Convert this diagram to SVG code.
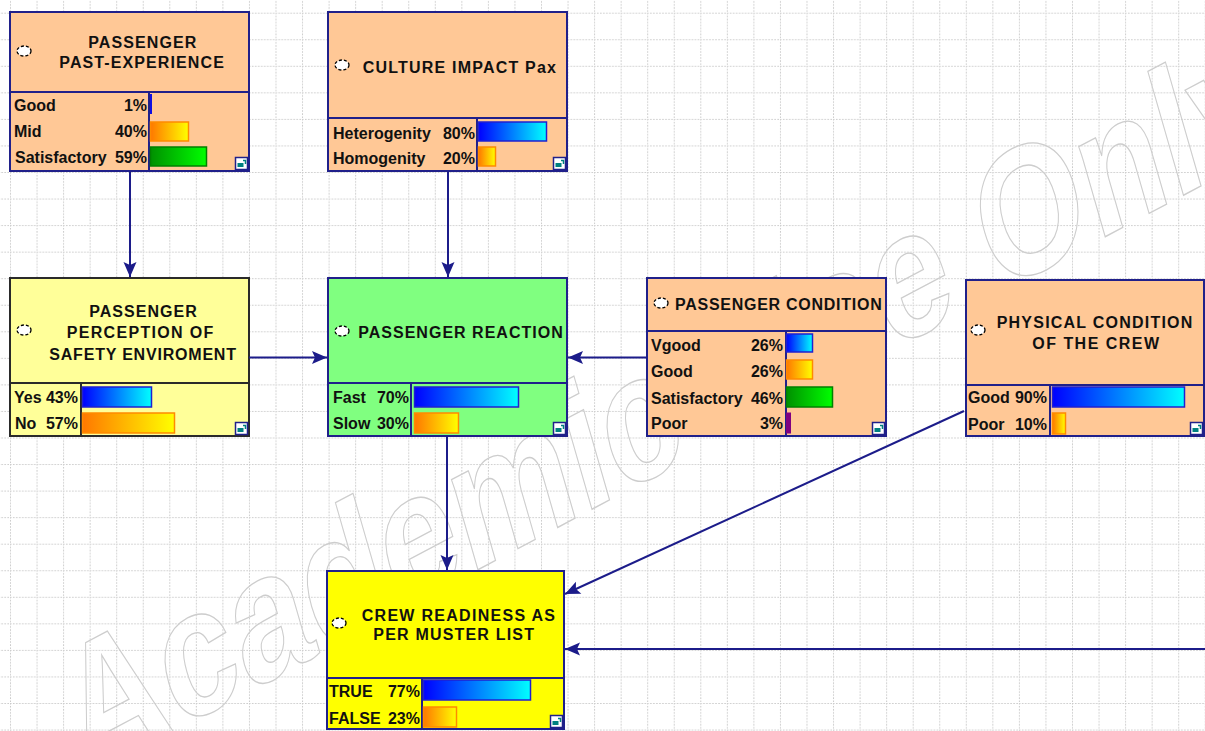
<svg xmlns="http://www.w3.org/2000/svg" width="1205" height="731" viewBox="0 0 1205 731">
<defs>
<pattern id="grid" patternUnits="userSpaceOnUse" x="10" y="12.7" width="26.55" height="26.55">
<line x1="0" y1="0.5" x2="26.55" y2="0.5" stroke="#c9c9c9" stroke-width="1" stroke-dasharray="1.5 1.5"/>
<line x1="0.5" y1="0" x2="0.5" y2="26.55" stroke="#c9c9c9" stroke-width="1" stroke-dasharray="1.5 1.5"/>
</pattern>
<linearGradient id="gBlue" x1="0" y1="0" x2="1" y2="0"><stop offset="0" stop-color="#0000ff"/><stop offset="1" stop-color="#00ffff"/></linearGradient>
<linearGradient id="gOrange" x1="0" y1="0" x2="1" y2="0"><stop offset="0" stop-color="#ff7800"/><stop offset="1" stop-color="#ffff00"/></linearGradient>
<linearGradient id="gGreen" x1="0" y1="0" x2="1" y2="0"><stop offset="0" stop-color="#009000"/><stop offset="1" stop-color="#00ff00"/></linearGradient>
<marker id="arr" markerUnits="userSpaceOnUse" markerWidth="18" markerHeight="14" viewBox="0 -7 16 14" refX="15" refY="0" orient="auto">
<path d="M0,-6.5 L15,0 L0,6.5 L3,0 Z" fill="#1c1c8a"/>
</marker>
<g id="mini"><rect x="0.5" y="0.5" width="12" height="12" fill="#ffffff" stroke="#20208a" stroke-width="1.5"/><rect x="2.5" y="6" width="6" height="4" fill="#008080"/><path d="M8,3.5 L10.5,3.5 L10.5,7" fill="none" stroke="#008080" stroke-width="1.5"/></g>
</defs>
<style>
.box{stroke:#20208a;stroke-width:2}
.div{stroke:#20208a;stroke-width:2;fill:none}
.peach{fill:#ffc896}
.lyel{fill:#ffff99}
.green{fill:#80ff80}
.yel{fill:#ffff00}
.t{font-family:"Liberation Sans",Arial,sans-serif;font-weight:bold;font-size:16px;fill:#111}
.pct{text-anchor:end}
.ico{fill:#ffffff;stroke:#000;stroke-width:1.3;stroke-dasharray:3 2}
.bb{fill:url(#gBlue);stroke:#2020d0;stroke-width:1.5}
.bo{fill:url(#gOrange);stroke:#ff8a00;stroke-width:1.5}
.bg{fill:url(#gGreen);stroke:#008000;stroke-width:1.5}
.bp{fill:#800080;stroke:#800080;stroke-width:1}
.conn{stroke:#1c1c8a;stroke-width:2;fill:none;marker-end:url(#arr)}
.wm{font-family:"Liberation Sans",Arial,sans-serif;font-weight:bold;font-size:150px;fill:none;stroke:#cdcdcd;stroke-width:1.2;vector-effect:non-scaling-stroke}
</style>
<rect width="1205" height="731" fill="#ffffff"/>
<rect width="1205" height="731" fill="url(#grid)"/>
<text class="wm" transform="matrix(0.855 -0.454 0.3275 1.14 84 779)">Academic Use Only</text>

<g id="n1">
<rect class="box peach" x="10" y="12" width="239" height="159"/>
<line class="div" x1="10" y1="92" x2="249" y2="92"/>
<line class="div" x1="149" y1="92" x2="149" y2="171"/>
<ellipse class="ico" cx="24" cy="51" rx="7" ry="5"/>
<text class="t" x="88.3" y="47.7" textLength="108" lengthAdjust="spacing">PASSENGER</text>
<text class="t" x="59.3" y="68.3" textLength="164.5" lengthAdjust="spacing">PAST-EXPERIENCE</text>
<text class="t" x="14" y="111">Good</text><text class="t pct" x="147" y="111">1%</text>
<text class="t" x="14" y="137">Mid</text><text class="t pct" x="147" y="137">40%</text>
<text class="t" x="15" y="162.5">Satisfactory</text><text class="t pct" x="147" y="162.5">59%</text>
<rect x="150" y="94" width="2" height="20" fill="#1010e0"/>
<rect class="bo" x="150.5" y="122" width="38" height="19"/>
<rect class="bg" x="150.5" y="147" width="56" height="19"/>
<use href="#mini" x="235" y="157"/>
</g>

<g id="n2">
<rect class="box peach" x="328" y="12" width="239" height="159"/>
<line class="div" x1="328" y1="118" x2="567" y2="118"/>
<line class="div" x1="477" y1="118" x2="477" y2="171"/>
<ellipse class="ico" cx="342" cy="65" rx="7" ry="5"/>
<text class="t" x="362.7" y="72.7" textLength="193.3" lengthAdjust="spacing">CULTURE IMPACT Pax</text>
<text class="t" x="333" y="138.5">Heterogenity</text><text class="t pct" x="475" y="138.5">80%</text>
<text class="t" x="333" y="163.5">Homogenity</text><text class="t pct" x="475" y="163.5">20%</text>
<rect class="bb" x="478.5" y="122" width="68" height="19"/>
<rect class="bo" x="478.5" y="147" width="17" height="19"/>
<use href="#mini" x="553" y="157"/>
</g>

<g id="n3">
<rect class="lyel" x="10" y="278" width="239" height="158" stroke="#2a2a2a" stroke-width="2"/>
<line x1="10" y1="383" x2="249" y2="383" stroke="#2a2a2a" stroke-width="2"/>
<line x1="81" y1="383" x2="81" y2="436" stroke="#2a2a2a" stroke-width="2"/>
<ellipse class="ico" cx="24" cy="330" rx="7" ry="5"/>
<text class="t" x="89.3" y="316.7" textLength="107.4" lengthAdjust="spacing">PASSENGER</text>
<text class="t" x="66.7" y="338.3" textLength="146.6" lengthAdjust="spacing">PERCEPTION OF</text>
<text class="t" x="49.3" y="360" textLength="186.7" lengthAdjust="spacing">SAFETY ENVIROMENT</text>
<text class="t" x="14" y="403">Yes</text><text class="t pct" x="78" y="403">43%</text>
<text class="t" x="15" y="429">No</text><text class="t pct" x="78" y="429">57%</text>
<rect class="bb" x="82.5" y="387" width="69" height="20"/>
<rect class="bo" x="82.5" y="413" width="92" height="20"/>
<use href="#mini" x="235" y="422"/>
</g>

<g id="n4">
<rect class="box green" x="328" y="278" width="239" height="158"/>
<line class="div" x1="328" y1="383" x2="567" y2="383"/>
<line class="div" x1="411" y1="383" x2="411" y2="436"/>
<ellipse class="ico" cx="342" cy="331" rx="7" ry="5"/>
<text class="t" x="358.3" y="338.3" textLength="204.4" lengthAdjust="spacing">PASSENGER REACTION</text>
<text class="t" x="333" y="403">Fast</text><text class="t pct" x="409" y="403">70%</text>
<text class="t" x="333" y="429">Slow</text><text class="t pct" x="409" y="429">30%</text>
<rect class="bb" x="414.5" y="387" width="104" height="20"/>
<rect class="bo" x="414.5" y="413" width="44" height="20"/>
<use href="#mini" x="553" y="422"/>
</g>

<g id="n5">
<rect class="box peach" x="647" y="278" width="239" height="158"/>
<line class="div" x1="647" y1="331" x2="886" y2="331"/>
<line class="div" x1="786" y1="331" x2="786" y2="436"/>
<ellipse class="ico" cx="661" cy="303" rx="7" ry="5"/>
<text class="t" x="675" y="310" textLength="206.7" lengthAdjust="spacing">PASSENGER CONDITION</text>
<text class="t" x="651" y="351">Vgood</text><text class="t pct" x="783" y="351">26%</text>
<text class="t" x="651" y="377">Good</text><text class="t pct" x="783" y="377">26%</text>
<text class="t" x="651" y="403.5">Satisfactory</text><text class="t pct" x="783" y="403.5">46%</text>
<text class="t" x="651" y="429">Poor</text><text class="t pct" x="783" y="429">3%</text>
<rect class="bb" x="786.5" y="334" width="26" height="18"/>
<rect class="bo" x="786.5" y="360" width="26" height="19"/>
<rect class="bg" x="786.5" y="387" width="46" height="20"/>
<rect class="bp" x="786.5" y="413" width="4" height="20"/>
<use href="#mini" x="872" y="422"/>
</g>

<g id="n6">
<rect class="box peach" x="966" y="280" width="238" height="156"/>
<line class="div" x1="966" y1="385" x2="1204" y2="385"/>
<line class="div" x1="1050" y1="385" x2="1050" y2="436"/>
<ellipse class="ico" cx="978" cy="330" rx="7" ry="5"/>
<text class="t" x="996.7" y="328.3" textLength="195.6" lengthAdjust="spacing">PHYSICAL CONDITION</text>
<text class="t" x="1032.3" y="349.3" textLength="126.7" lengthAdjust="spacing">OF THE CREW</text>
<text class="t" x="968" y="403">Good</text><text class="t pct" x="1047" y="403">90%</text>
<text class="t" x="968" y="429.5">Poor</text><text class="t pct" x="1047" y="429.5">10%</text>
<rect class="bb" x="1052.5" y="387" width="132" height="20"/>
<rect class="bo" x="1052.5" y="413" width="13" height="21"/>
<use href="#mini" x="1190" y="422"/>
</g>

<g id="n7">
<rect class="box yel" x="327" y="571" width="237" height="158"/>
<line class="div" x1="327" y1="678" x2="564" y2="678"/>
<line class="div" x1="422" y1="678" x2="422" y2="729"/>
<ellipse class="ico" cx="339" cy="623" rx="7" ry="5"/>
<text class="t" x="361.7" y="621" textLength="193.3" lengthAdjust="spacing">CREW READINESS AS</text>
<text class="t" x="373.3" y="640" textLength="160.7" lengthAdjust="spacing">PER MUSTER LIST</text>
<text class="t" x="329" y="696.5">TRUE</text><text class="t pct" x="420" y="696.5">77%</text>
<text class="t" x="329" y="723.5">FALSE</text><text class="t pct" x="420" y="723.5">23%</text>
<rect class="bb" x="423.5" y="680" width="107" height="20"/>
<rect class="bo" x="423.5" y="707" width="33" height="20"/>
<use href="#mini" x="550" y="715"/>
</g>

<g id="connectors">
<path class="conn" d="M130,171 L130,277"/>
<path class="conn" d="M448,171 L448,277"/>
<path class="conn" d="M249,357.5 L327,357.5"/>
<path class="conn" d="M647,357.5 L568,357.5"/>
<path class="conn" d="M447,436 L447,570"/>
<path class="conn" d="M964,411 L565,594"/>
<path class="conn" d="M1205,649 L565,649"/>
</g>
</svg>
